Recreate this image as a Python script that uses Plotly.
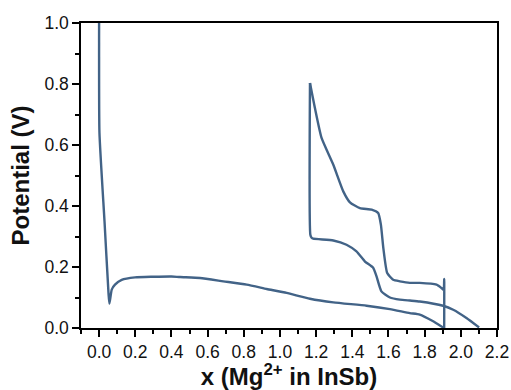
import plotly.graph_objects as go

# First discharge (x, potential)
discharge1_x = [0.0, 0.0, 0.002, 0.03, 0.052, 0.057, 0.07, 0.088, 0.125, 0.199, 0.30, 0.40, 0.448,
                0.558, 0.687, 0.816, 0.927, 1.037, 1.166, 1.295, 1.479, 1.608, 1.718, 1.773, 1.847, 1.902, 1.908]
discharge1_y = [1.5, 1.0, 0.64, 0.35, 0.115, 0.08, 0.126, 0.142, 0.158, 0.166, 0.168, 0.169, 0.167,
                0.164, 0.153, 0.142, 0.128, 0.115, 0.096, 0.084, 0.073, 0.062, 0.049, 0.044, 0.022, 0.002, 0.0]

# Charge (plotted back toward lower x)
charge_x = [1.908, 1.908, 1.905, 1.893, 1.866, 1.773, 1.718, 1.663, 1.626, 1.593, 1.572, 1.558, 1.543,
            1.507, 1.442, 1.387, 1.350, 1.295, 1.230, 1.193, 1.166]
charge_y = [0.0, 0.161, 0.125, 0.131, 0.142, 0.148, 0.148, 0.153, 0.158, 0.18, 0.26, 0.339, 0.377,
            0.388, 0.393, 0.412, 0.448, 0.535, 0.623, 0.722, 0.803]

# Second discharge
discharge2_x = [1.166, 1.168, 1.175, 1.184, 1.295, 1.368, 1.423, 1.470, 1.516, 1.534, 1.561, 1.608,
                1.663, 1.718, 1.773, 1.902, 1.958, 2.031, 2.101]
discharge2_y = [0.803, 0.306, 0.296, 0.293, 0.287, 0.273, 0.251, 0.218, 0.197, 0.169, 0.12, 0.100,
                0.093, 0.090, 0.087, 0.073, 0.06, 0.033, 0.002]

x_ticks = [0.0, 0.2, 0.4, 0.6, 0.8, 1.0, 1.2, 1.4, 1.6, 1.8, 2.0, 2.2]
y_ticks = [0.0, 0.2, 0.4, 0.6, 0.8, 1.0]

color = "#426387"
fig = go.Figure()
for xs, ys in [(discharge1_x, discharge1_y), (charge_x, charge_y), (discharge2_x, discharge2_y)]:
    fig.add_trace(go.Scatter(x=xs, y=ys, mode="lines", line=dict(color=color, width=2.4, shape="spline", smoothing=0.5),
                             showlegend=False, hoverinfo="skip"))

font_family = "Liberation Sans, Arial, sans-serif"
fig.update_layout(
    width=511, height=390,
    margin=dict(l=81, r=14, t=23, b=62, autoexpand=False),
    paper_bgcolor="white", plot_bgcolor="white",
    font=dict(family=font_family, color="#111111", size=17.5),
    xaxis=dict(range=[-0.1, 2.2], tickvals=x_ticks, ticktext=[f"{v:.1f}" for v in x_ticks],
               ticks="outside", ticklen=7, tickwidth=1.5, tickcolor="black", automargin=False,
               ticklabeloverflow="allow",
               minor=dict(dtick=0.1, tick0=0.0, ticks="outside", ticklen=4, tickwidth=1.5, tickcolor="black"),
               showline=True, linecolor="black", linewidth=1.5, mirror=True, showgrid=False, zeroline=False,
               title=dict(text="<b>x (Mg<sup>2+</sup> in InSb)</b>", font=dict(size=24), standoff=4)),
    yaxis=dict(range=[0, 1.0], tickvals=y_ticks, ticktext=[f"{v:.1f}" for v in y_ticks],
               ticks="outside", ticklen=7, tickwidth=1.5, tickcolor="black", automargin=False,
               minor=dict(dtick=0.1, tick0=0.0, ticks="outside", ticklen=4, tickwidth=1.5, tickcolor="black"),
               showline=True, linecolor="black", linewidth=1.5, mirror=True, showgrid=False, zeroline=False,
               title=dict(text="<b>Potential (V)</b>", font=dict(size=24), standoff=8)),
)
# remove the default 8px page margin so the figure fills the window exactly
fig.write_html("out.html", config={"displayModeBar": False},
               post_script="document.body.style.margin='0px';")
